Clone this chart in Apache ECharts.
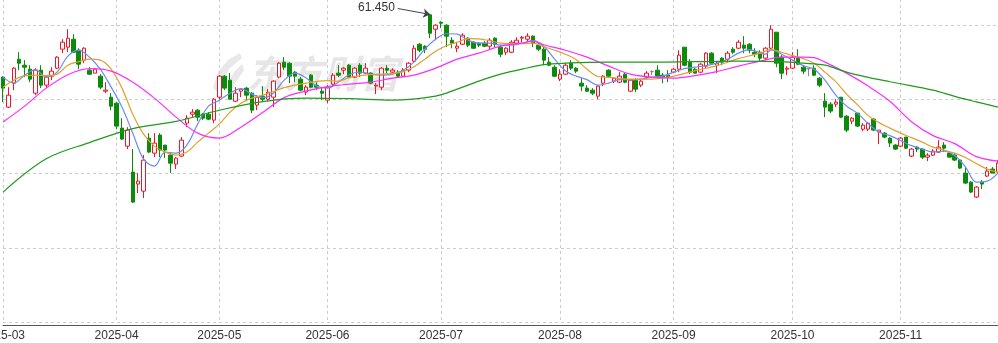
<!DOCTYPE html>
<html><head><meta charset="utf-8">
<script src="https://cdn.jsdelivr.net/npm/echarts@6/dist/echarts.min.js"></script>
<style>html,body{margin:0;padding:0;background:#fff}#c{width:998px;height:343px}</style>
</head><body><div id="c"></div>
<script>
// HK trading days (2025)
const daysMar = [3,4,5,6,7,10,11,12,13,14,17,18,19,20,21,24,25,26,27,28,31];
const daysApr = [1,2,3,7,8,9,10,11,14,15,16,17,22,23,24,25,28,29,30];
const daysMay = [2,6,7,8,9,12,13,14,15,16,19,20,21,22,23,26,27,28,29,30];
const daysJun = [2,3,4,5,6,9,10,11,12,13,16,17,18,19,20,23,24,25,26,27,30];
const daysJul = [2,3,4,7,8,9,10,11,14,15,16,17,18,21,22,23,24,25,28,29,30,31];
const daysAug = [1,4,5,6,7,8,11,12,13,14,15,18,19,20,21,22,25,26,27,28,29];
const daysSep = [1,2,3,4,5,8,9,10,11,12,15,16,17,18,19,22,23,24,25,26,29,30];
const daysOct = [2,3,6,8,9,10,13,14,15,16,17,20,21,22,23,24,27,28,30,31];
const daysNov = [3,4,5,6,7,10,11,12,13,14,17,18,19,20,21,24,25,26,27];

const opens = [
53.00,48.96,52.19,55.42,54.61,54.07,50.84,53.94,51.92,53.13,
54.21,56.77,57.04,58.11,56.63,55.29,53.94,53.54,53.13,51.11,
50.30,49.49,46.13,43.70,40.20,38.59,37.64,44.78,42.76,45.19,
43.84,42.49,41.28,42.36,46.80,48.01,48.55,48.01,48.01,47.21,
50.30,53.13,52.59,49.76,51.11,51.52,50.84,49.23,50.44,50.03,
50.30,53.00,55.02,54.88,53.67,52.73,50.98,53.27,51.92,51.11,
49.90,52.05,53.54,53.94,54.61,53.00,54.61,53.54,53.54,51.79,
51.65,54.21,53.67,53.67,53.13,53.94,55.15,57.44,57.17,61.40,
59.46,60.40,60.00,57.98,56.90,57.44,58.25,57.71,57.58,57.58,
57.17,58.25,57.04,56.36,56.36,57.58,58.25,58.11,58.52,57.31,
56.77,55.02,54.34,52.73,53.40,54.88,54.21,52.19,51.52,51.25,
50.44,52.19,53.94,52.46,52.32,53.40,51.11,52.59,51.92,53.00,
53.74,53.94,53.27,53.27,53.67,54.07,57.04,55.02,54.07,53.67,
54.48,56.23,54.61,55.56,55.42,56.77,56.90,57.31,57.44,56.36,
56.36,55.56,56.90,59.06,55.69,54.07,54.21,55.56,54.34,54.14,
54.21,52.86,49.76,49.36,49.36,50.30,47.74,47.07,48.15,45.99,
45.99,47.34,45.59,45.45,44.78,43.84,43.70,44.92,42.36,43.57,
43.30,42.22,42.49,42.90,43.84,42.76,42.49,41.82,40.07,38.85,
36.84,38.85,39.66,40.61,40.20];
const closes = [
51.52,50.57,54.21,54.88,54.34,52.73,53.94,51.92,53.00,53.81,
55.69,57.71,58.25,56.36,54.75,56.90,53.40,54.07,51.65,51.25,
49.09,46.40,44.65,45.86,36.16,38.99,41.82,42.90,44.11,43.17,
43.17,41.41,42.09,44.51,47.47,48.28,47.61,47.47,47.34,50.03,
53.13,51.52,50.03,50.84,51.38,50.57,48.55,50.30,50.03,50.98,
52.46,54.88,54.34,53.13,53.13,51.25,51.65,51.65,51.65,50.84,
51.65,53.27,53.27,54.21,53.00,54.21,53.54,54.21,52.19,51.92,
54.21,53.94,53.94,53.13,53.94,54.88,56.90,56.63,56.77,58.92,
60.00,60.27,58.52,57.58,57.17,58.65,57.31,56.90,57.31,57.17,
57.98,57.44,56.09,56.90,57.71,57.98,58.38,58.52,57.58,56.77,
55.29,54.61,53.13,53.40,54.61,54.21,53.81,51.79,51.11,50.84,
51.79,53.13,53.13,52.86,53.13,52.32,52.59,51.38,52.46,53.54,
53.74,53.13,53.00,53.00,54.07,55.96,54.61,53.67,53.54,54.75,
56.23,54.88,54.88,55.02,56.23,56.36,57.71,56.90,56.63,56.09,
55.56,56.90,59.46,54.88,53.54,54.21,55.69,54.75,53.81,54.14,
53.27,51.92,48.96,48.42,49.63,47.61,45.86,47.47,46.40,46.53,
46.80,45.86,45.86,44.92,44.11,43.30,44.78,43.43,43.30,43.30,
42.22,42.49,43.03,43.57,43.43,42.22,41.82,40.74,38.72,37.51,
38.18,38.59,40.34,40.07,41.41];
const lows = [
49.63,48.82,51.25,53.94,53.00,52.32,50.57,51.52,51.52,52.59,
54.07,56.23,56.36,56.23,54.07,54.88,53.27,53.54,51.38,50.84,
48.55,45.99,44.51,43.30,36.03,37.37,36.70,42.76,42.22,42.22,
42.09,40.07,40.61,42.22,46.26,47.61,47.07,47.21,47.21,46.80,
49.90,51.25,50.03,49.63,50.30,49.76,48.15,48.55,49.63,49.76,
48.96,52.86,53.94,52.19,52.32,51.11,50.57,51.52,51.25,49.90,
49.49,51.79,53.00,53.40,52.86,52.86,53.00,53.40,52.05,50.71,
51.25,53.54,53.54,53.00,53.00,53.67,55.02,56.36,56.23,58.25,
57.98,59.60,57.04,56.90,56.36,57.31,57.04,56.77,57.04,57.04,
56.63,57.04,55.69,55.96,56.23,57.31,57.71,57.71,57.04,56.50,
54.61,54.48,53.00,52.46,53.27,53.94,53.54,51.11,50.98,50.57,
50.03,51.79,52.86,52.19,52.19,52.19,50.98,50.98,51.65,52.73,
53.27,52.86,52.19,52.32,53.54,53.67,54.48,53.40,53.54,53.54,
54.21,54.88,53.54,54.61,55.02,56.09,56.77,56.23,56.23,55.69,
55.15,55.29,56.77,54.34,52.73,53.27,54.07,54.61,53.40,53.13,
53.13,51.65,47.61,48.15,48.96,47.47,45.59,46.67,46.26,45.72,
45.72,45.72,43.97,44.78,43.57,43.17,43.57,43.30,42.22,42.90,
41.95,41.68,42.36,42.76,42.90,42.22,41.68,40.61,38.59,37.37,
36.70,37.91,39.53,40.07,40.07];
const highs = [
53.13,51.65,54.34,56.36,55.29,54.61,54.21,54.61,53.27,54.34,
55.83,58.11,59.46,58.79,56.90,57.04,54.34,54.21,53.40,52.32,
50.84,49.63,47.47,46.26,43.30,40.07,42.49,45.45,45.45,45.45,
43.84,42.90,42.22,44.92,47.88,48.69,48.69,48.15,48.28,50.17,
53.27,53.27,53.54,51.65,51.52,51.65,50.98,50.57,51.79,51.38,
52.59,55.02,55.69,55.02,53.81,53.00,51.92,53.40,52.32,51.65,
51.92,53.54,54.61,54.34,54.75,54.34,54.88,54.88,53.67,52.19,
54.34,54.61,54.21,53.94,54.21,55.02,57.31,57.58,57.31,61.45,
60.13,60.54,60.13,58.38,57.58,58.92,58.38,57.85,57.71,57.85,
58.25,58.38,57.31,57.04,57.98,58.38,58.52,58.92,58.65,57.58,
57.04,55.69,54.61,54.07,54.88,55.29,54.34,52.86,51.92,51.52,
51.92,53.27,54.07,53.00,53.67,53.54,52.73,52.86,52.73,53.81,
53.94,54.61,53.54,53.94,54.21,56.63,57.04,55.42,54.21,54.88,
56.36,56.36,55.15,55.69,56.50,57.04,57.98,58.52,57.58,56.90,
56.63,57.04,60.00,59.06,55.96,54.48,56.36,56.77,54.61,54.21,
54.61,53.00,50.84,49.63,50.03,50.30,47.88,47.61,48.15,46.80,
46.94,47.47,45.86,45.59,44.92,43.97,44.92,44.92,43.43,43.70,
43.43,42.76,43.30,44.51,44.24,42.90,42.76,41.95,40.88,38.99,
38.32,39.12,40.88,40.88,41.82];

// moving averages (category index, value)
const ma5Idx = [0,2,4,6,8,10,12,14,16,18,20,22,24,26,28,30,32,34,36,38,40,42,44,46,48,50,52,54,56,58,60,62,64,66,68,70,72,74,76,78,80,82,84,86,88,90,92,94,96,98,100,102,104,106,108,110,112,114,116,118,120,122,124,126,128,130,132,134,136,138,140,141,142,143,144,146,148,150,152,154,156,158,160,162,164,166,168,170,172,174,176,178,180,182,184];
const ma5Val = [53.00,52.19,53.27,54.01,53.00,53.67,55.83,56.63,55.69,54.07,51.65,48.96,45.45,41.95,41.01,42.90,42.76,43.84,46.67,49.09,49.90,50.84,51.45,50.71,50.24,50.84,52.59,53.54,52.93,51.79,51.52,52.32,53.33,53.67,53.40,53.27,53.40,53.94,55.02,56.77,58.11,58.85,58.79,57.98,57.58,57.58,57.31,57.31,57.58,57.91,57.17,55.42,53.87,53.13,52.66,51.92,52.19,52.66,52.66,52.73,53.00,53.13,53.67,54.14,54.34,54.55,54.88,55.42,56.23,56.70,56.30,56.09,56.63,56.50,56.09,55.29,54.55,54.07,52.59,50.57,49.09,48.15,46.74,45.59,45.12,44.45,43.77,43.30,42.90,43.03,42.43,40.88,38.85,38.99,40.07];
const ma10Idx = [0,2,4,6,8,10,12,14,16,18,20,22,24,26,28,30,32,34,36,38,40,42,44,46,48,50,52,56,60,62,64,68,72,74,76,78,80,82,84,86,88,90,92,96,98,100,102,104,106,108,110,112,116,120,124,128,132,136,140,142,144,146,148,150,152,154,156,158,160,162,164,166,168,170,172,174,176,178,180,182,184];
const ma10Val = [51.65,52.59,53.20,53.27,53.20,53.40,54.61,55.08,55.42,55.29,54.07,51.52,48.01,45.32,43.70,42.90,42.49,42.90,44.24,45.45,46.67,48.28,49.49,50.17,50.57,51.04,51.58,52.19,52.52,52.46,52.93,53.33,53.47,53.74,54.41,55.42,56.50,57.24,57.71,58.18,58.15,57.91,57.58,57.51,57.58,57.10,56.63,56.09,55.35,54.07,53.09,52.96,52.73,52.73,53.13,53.87,54.55,55.49,56.23,56.70,56.36,55.89,55.49,54.88,53.67,52.39,50.71,49.29,47.81,46.87,46.13,45.45,44.85,44.24,43.57,43.17,42.76,42.16,41.35,40.61,40.20];
const ma20Idx = [0,4,8,12,16,20,24,28,32,36,40,44,48,52,56,60,64,68,72,76,80,84,88,92,96,98,100,104,108,112,116,120,124,128,132,136,140,144,148,150,152,156,160,164,168,172,176,180,184];
const ma20Val = [46.94,49.09,51.52,53.33,54.14,53.81,52.32,50.17,47.61,45.45,44.78,46.26,48.22,50.24,51.11,51.72,52.05,52.32,52.86,53.27,54.21,55.42,56.23,57.17,57.58,57.85,57.37,56.63,55.69,54.48,53.40,53.00,52.86,53.20,53.74,54.48,55.15,55.69,55.69,55.62,55.02,53.54,51.79,49.76,47.00,45.12,44.04,42.29,41.68];
const ma60Idx = [0,8,16,24,32,40,48,56,64,72,80,84,88,92,96,100,104,112,120,128,136,144,148,152,156,160,164,168,172,176,180,184];
const ma60Val = [37.51,42.00,44.18,46.07,47.03,48.54,49.71,50.17,50.10,49.90,50.44,51.38,52.46,53.40,54.07,54.68,54.88,55.02,55.02,55.08,55.15,55.08,54.88,54.61,53.67,52.96,52.38,51.83,51.25,50.41,49.67,48.96];

const pad = n => (n < 10 ? '0' : '') + n;
const monthDays = [[3,daysMar],[4,daysApr],[5,daysMay],[6,daysJun],[7,daysJul],[8,daysAug],[9,daysSep],[10,daysOct],[11,daysNov]];
const categories = [];
monthDays.forEach(([m, ds]) => ds.forEach(d => categories.push('2025-' + pad(m) + '-' + pad(d))));

const candleData = categories.map((_, i) => [opens[i], closes[i], lows[i], highs[i]]);
const isMonthStart = i => i === 0 || categories[i].slice(0, 7) !== categories[i - 1].slice(0, 7);

let maxIdx = 0;
highs.forEach((h, i) => { if (h > highs[maxIdx]) maxIdx = i; });
const maxHigh = highs[maxIdx];

const pts = (idx, val) => idx.map((x, k) => [x, val[k]]);
const maLine = (idx, val, color) => ({
  type: 'line', data: pts(idx, val), smooth: 0.35, showSymbol: false, symbol: 'none',
  lineStyle: { width: 1.2, color: color }, z: 3, silent: true
});

const chart = echarts.init(document.getElementById('c'));
chart.setOption({
  animation: false,
  backgroundColor: '#fff',
  graphic: [
    { type: 'polygon', z: -10, silent: true,
      shape: { points: [[240,53],[228,60],[218,72],[213,88],[219,93],[222,80],[230,68],[242,58]] },
      style: { fill: '#e8e8e8' } },
    { type: 'polygon', z: -10, silent: true,
      shape: { points: [[242,64],[234,72],[228,84],[230,93],[236,82],[244,70]] },
      style: { fill: '#e8e8e8' } },
    { type: 'text', left: 247, top: 55, z: -10, silent: true,
      style: { text: '东方财富', fill: '#e6e6e6', font: 'italic bold 38px "Noto Sans CJK SC"' } }
  ],
  grid: { left: 3, right: 0, top: -49, bottom: 21, containLabel: false, outerBoundsMode: 'none' },
  xAxis: {
    type: 'category', data: categories, boundaryGap: false, offset: 3,
    axisLine: { show: true, lineStyle: { color: '#555', width: 1 } },
    axisTick: { show: false },
    axisLabel: {
      interval: (i) => isMonthStart(i),
      formatter: v => v.slice(0, 7),
      color: '#333', fontSize: 12, margin: 5, fontFamily: 'Liberation Sans, Arial'
    },
    splitLine: { show: true, interval: (i) => isMonthStart(i), lineStyle: { color: '#ccc', type: [3, 3] } }
  },
  yAxis: {
    type: 'value', min: 20, max: 70, interval: 10, scale: false,
    axisLabel: { show: false }, axisLine: { show: false }, axisTick: { show: false },
    splitLine: { show: true, lineStyle: { color: '#ccc', type: [3, 3] } }
  },
  series: [
    {
      type: 'candlestick', data: candleData, barWidth: 4, clip: false, z: 2,
      itemStyle: {
        color: '#ffffff', color0: '#0b8a0b',
        borderColor: '#f01428', borderColor0: '#0b8a0b', borderColorDoji: '#888888', borderWidth: 1
      },
      markLine: {
        silent: true, symbol: ['none', 'arrow'], symbolSize: 7,
        lineStyle: { color: '#444', width: 1, type: 'solid' },
        label: { show: true, position: 'start', formatter: maxHigh.toFixed(3), color: '#333', fontSize: 12, distance: 3, fontFamily: 'Liberation Sans, Arial' },
        data: [[{ coord: [categories[maxIdx - 6], maxHigh + 0.8] }, { coord: [categories[maxIdx], maxHigh] }]]
      }
    },
    maLine(ma5Idx, ma5Val, '#6c8cf0'),
    maLine(ma10Idx, ma10Val, '#e2a030'),
    maLine(ma20Idx, ma20Val, '#ff2cff'),
    maLine(ma60Idx, ma60Val, '#1e9a1e')
  ]
});
</script></body></html>
